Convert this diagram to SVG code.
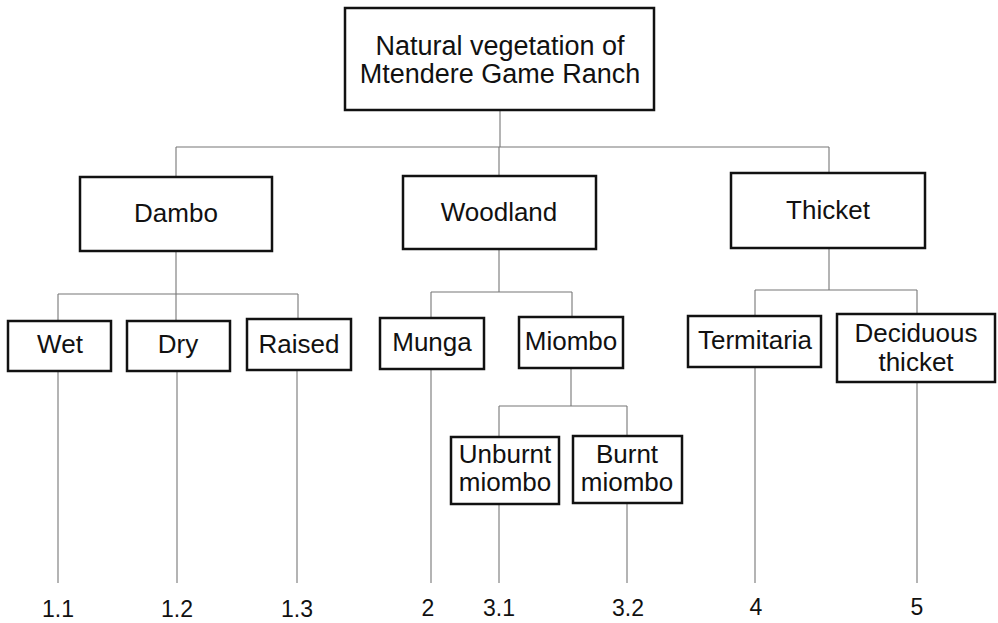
<svg xmlns="http://www.w3.org/2000/svg" width="998" height="623" viewBox="0 0 998 623">
<style>
.box{fill:#fff;stroke:#111;stroke-width:2.5}
.t{font-family:"Liberation Sans",Arial,sans-serif;font-size:26px;fill:#111;text-anchor:middle}
.title{font-size:27px}
.num{font-family:"Liberation Sans",Arial,sans-serif;font-size:23px;fill:#111;text-anchor:middle}
.c{fill:none;stroke:#777;stroke-width:1.1}
</style>
<rect width="998" height="623" fill="#fff"/>
<g id="connectors">
<path class="c" d="M500,110V147M176,147H829M176,147V177M499,147V176M829,147V173"/>
<path class="c" d="M176,251V294M58,294H298M58,294V321M176,294V321M298,294V319"/>
<path class="c" d="M499,249V292M431,292H572M431,292V318M572,292V317"/>
<path class="c" d="M829,248V290M755,290H917M755,290V316M917,290V314"/>
<path class="c" d="M571,368V406M499,406H627M499,406V437M627,406V436"/>
<path class="c" d="M58,371V583M177,371V583M297,370V583M431,369V583M499,504V583M627,503V583M755,367V583M917,382V583"/>
</g>
<g id="root"><rect class="box" x="345" y="8" width="309" height="102"/><text class="t title" x="500" y="55">Natural vegetation of</text><text class="t title" x="500" y="83">Mtendere Game Ranch</text></g>
<g id="dambo"><rect class="box" x="80" y="177" width="192" height="74"/><text class="t" x="176" y="222">Dambo</text></g>
<g id="woodland"><rect class="box" x="403" y="176" width="193" height="73"/><text class="t" x="499" y="221">Woodland</text></g>
<g id="thicket"><rect class="box" x="731" y="173" width="194" height="75"/><text class="t" x="828" y="219">Thicket</text></g>
<g id="wet"><rect class="box" x="8" y="321" width="103" height="50"/><text class="t" x="60" y="353">Wet</text></g>
<g id="dry"><rect class="box" x="127" y="321" width="103" height="50"/><text class="t" x="178" y="353">Dry</text></g>
<g id="raised"><rect class="box" x="247" y="319" width="104" height="51"/><text class="t" x="299" y="353">Raised</text></g>
<g id="munga"><rect class="box" x="380" y="318" width="104" height="51"/><text class="t" x="432" y="351">Munga</text></g>
<g id="miombo"><rect class="box" x="519" y="317" width="104" height="51"/><text class="t" x="571" y="350">Miombo</text></g>
<g id="termitaria"><rect class="box" x="688" y="316" width="133" height="51"/><text class="t" x="755" y="349">Termitaria</text></g>
<g id="deciduous"><rect class="box" x="837" y="314" width="158" height="68"/><text class="t" x="916" y="342">Deciduous</text><text class="t" x="916" y="371">thicket</text></g>
<g id="unburnt"><rect class="box" x="451" y="437" width="108" height="67"/><text class="t" x="505" y="463">Unburnt</text><text class="t" x="505" y="491">miombo</text></g>
<g id="burnt"><rect class="box" x="573" y="436" width="109" height="67"/><text class="t" x="627" y="463">Burnt</text><text class="t" x="627" y="491">miombo</text></g>
<g id="labels">
<text class="num" x="58" y="617">1.1</text>
<text class="num" x="177" y="617">1.2</text>
<text class="num" x="297" y="617">1.3</text>
<text class="num" x="428" y="616">2</text>
<text class="num" x="499" y="616">3.1</text>
<text class="num" x="628" y="616">3.2</text>
<text class="num" x="756" y="615">4</text>
<text class="num" x="917" y="615">5</text>
</g>
</svg>
